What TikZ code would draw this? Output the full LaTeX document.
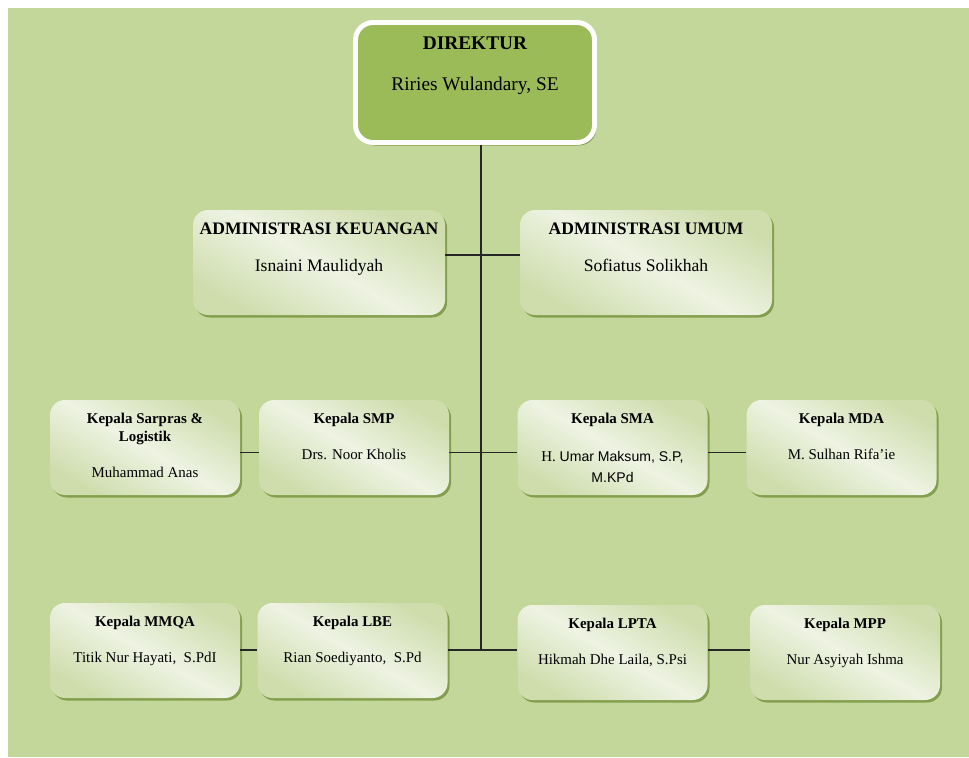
\documentclass[tikz,border=0pt]{standalone}
\usepackage{fontspec}
\setmainfont{Liberation Serif}
\setsansfont{Liberation Sans}
\usetikzlibrary{shadows}

\definecolor{bgGreen}{HTML}{C4D79B}
\definecolor{dirGreen}{HTML}{9BBB59}
\definecolor{boxDark}{HTML}{CFDDAD}
\definecolor{boxLight}{HTML}{EEF3E3}
\definecolor{shadowGreen}{HTML}{7D9A45}

\begin{document}
\begin{tikzpicture}[
	unit/.style={rounded corners=.3cm, minimum width=3.8cm, minimum height=1.9cm, inner sep=0pt,
		top color=boxDark, bottom color=boxDark, middle color=boxLight, shading angle=-30,
		drop shadow={shadow xshift=.04cm, shadow yshift=-.05cm, fill=shadowGreen, opacity=.9}},
	adminunit/.style={unit, minimum width=5.04cm, minimum height=2.1cm},
	headunit/.style={rounded corners=.35cm, minimum width=4.78cm, minimum height=2.4cm, inner sep=0pt,
		fill=dirGreen, draw=white, line width=2.8pt,
		drop shadow={shadow xshift=.04cm, shadow yshift=-.06cm, fill=shadowGreen, opacity=.9}},
	post/.style={anchor=north, inner sep=0pt, align=center, font=\fontsize{8.5}{10.2}\selectfont\bfseries},
	holder/.style={anchor=north, inner sep=0pt, align=center, font=\fontsize{8.5}{12}\selectfont},
	adminpost/.style={post, font=\fontsize{10}{12}\selectfont\bfseries},
	adminholder/.style={holder, font=\fontsize{10}{12}\selectfont},
	headpost/.style={post, font=\fontsize{11}{13}\selectfont\bfseries},
	headholder/.style={holder, font=\fontsize{11}{13}\selectfont},
	link/.style={draw=black!85, line width=.8pt}
]
	\useasboundingbox (0,0) rectangle (19.38,-15.14);
	\fill[bgGreen] (.16,-.16) rectangle (19.38,-15.14);

	% direktur
	\node[headunit] (dir) at (9.5,-1.65) {};
	\node[headpost] (dir-post) at ([yshift=-.33cm]dir.north) {DIREKTUR};
	\node[headholder] (dir-holder) at ([yshift=-1.13cm]dir.north) {Riries Wulandary, SE};

	% administrasi
	\node[adminunit] (keu) at (6.38,-5.25) {};
	\node[adminpost] (keu-post) at ([yshift=-.26cm]keu.north) {ADMINISTRASI KEUANGAN};
	\node[adminholder] (keu-holder) at ([yshift=-.98cm]keu.north) {Isnaini Maulidyah};
	\node[adminunit] (umum) at (12.92,-5.25) {};
	\node[adminpost] (umum-post) at ([yshift=-.26cm]umum.north) {ADMINISTRASI UMUM};
	\node[adminholder] (umum-holder) at ([yshift=-.98cm]umum.north) {Sofiatus Solikhah};

	% kepala, baris atas
	\node[unit] (sarpras) at (2.9,-8.95) {};
	\node[post] (sarpras-post) at ([yshift=-.26cm]sarpras.north) {Kepala Sarpras \&\\Logistik};
	\node[holder] (sarpras-holder) at ([yshift=-1.34cm]sarpras.north) {Muhammad Anas};
	\node[unit] (smp) at (7.08,-8.95) {};
	\node[post] (smp-post) at ([yshift=-.26cm]smp.north) {Kepala SMP};
	\node[holder] (smp-holder) at ([yshift=-.98cm]smp.north) {Drs. Noor Kholis};
	\node[unit] (sma) at (12.25,-8.95) {};
	\node[post] (sma-post) at ([yshift=-.26cm]sma.north) {Kepala SMA};
	\node[holder] (sma-holder) at ([yshift=-1.02cm]sma.north) {H. {\sffamily\fontsize{8}{12}\selectfont Umar Maksum, S.P,}\\{\sffamily\fontsize{8}{12}\selectfont M.KPd}};
	\node[unit] (mda) at (16.83,-8.95) {};
	\node[post] (mda-post) at ([yshift=-.26cm]mda.north) {Kepala MDA};
	\node[holder] (mda-holder) at ([yshift=-.98cm]mda.north) {M. Sulhan Rifa'ie};

	% kepala, baris bawah
	\node[unit] (mmqa) at (2.9,-13.01) {};
	\node[post] (mmqa-post) at ([yshift=-.27cm]mmqa.north) {Kepala MMQA};
	\node[holder] (mmqa-holder) at ([yshift=-.99cm]mmqa.north) {Titik Nur Hayati, \ S.PdI};
	\node[unit] (lbe) at (7.05,-13.01) {};
	\node[post] (lbe-post) at ([yshift=-.27cm]lbe.north) {Kepala LBE};
	\node[holder] (lbe-holder) at ([yshift=-.99cm]lbe.north) {Rian Soediyanto, \ S.Pd};
	\node[unit] (lpta) at (12.25,-13.05) {};
	\node[post] (lpta-post) at ([yshift=-.27cm]lpta.north) {Kepala LPTA};
	\node[holder] (lpta-holder) at ([yshift=-.99cm]lpta.north) {Hikmah Dhe Laila, S.Psi};
	\node[unit] (mpp) at (16.9,-13.05) {};
	\node[post] (mpp-post) at ([yshift=-.27cm]mpp.north) {Kepala MPP};
	\node[holder] (mpp-holder) at ([yshift=-.99cm]mpp.north) {Nur Asyiyah Ishma};

	% garis
	\coordinate (t1) at (9.62,-5.1);
	\coordinate (t3) at (9.62,-9.05);
	\coordinate (t4) at (9.62,-13.0);
	\draw[link] (dir.south -| t4) -- (t4);
	\draw[link] (keu.east |- t1) -- (umum.west |- t1);
	\draw[link] (sarpras.east |- t3) -- (smp.west |- t3);
	\draw[link] (smp.east |- t3) -- (sma.west |- t3);
	\draw[link] (sma.east |- t3) -- (mda.west |- t3);
	\draw[link] (mmqa.east |- t4) -- (lbe.west |- t4);
	\draw[link] (lbe.east |- t4) -- (lpta.west |- t4);
	\draw[link] (lpta.east |- t4) -- (mpp.west |- t4);
\end{tikzpicture}
\end{document}
